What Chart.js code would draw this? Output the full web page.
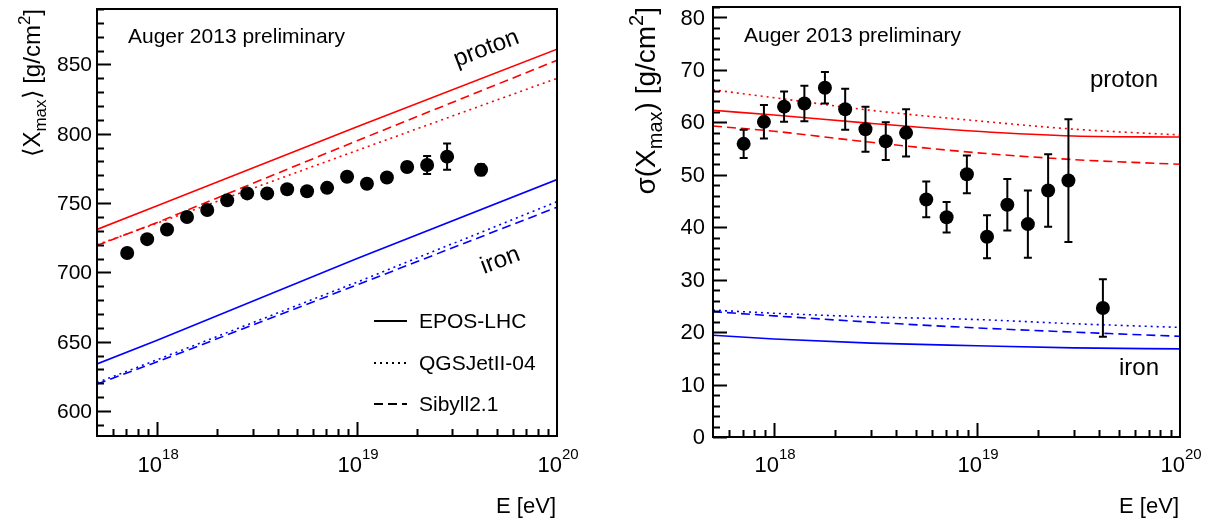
<!DOCTYPE html>
<html>
<head>
<meta charset="utf-8">
<script src="https://cdn.jsdelivr.net/npm/chart.js@4.4.1/dist/chart.umd.min.js"></script>
<style>
  html, body { margin: 0; padding: 0; background: #fff; }
  #wrap { position: relative; width: 1207px; height: 518px; overflow: hidden; background: #fff; }
  canvas { position: absolute; top: 0; }
  #c1 { left: 0; }
  #c2 { left: 600px; }
</style>
</head>
<body>
<div id="wrap">
  <canvas id="c1" width="600" height="518"></canvas>
  <canvas id="c2" width="607" height="518"></canvas>
</div>
<script>
// energy bins in eV (same for both panels)
const energies = [7.08e17, 8.91e17, 1.12e18, 1.41e18, 1.78e18, 2.24e18, 2.82e18, 3.55e18, 4.47e18,
                  5.62e18, 7.08e18, 8.91e18, 1.12e19, 1.41e19, 1.78e19, 2.24e19, 2.82e19, 4.17e19];

// left panel: <Xmax> [g/cm2]
const meanXmax    = [714, 724, 731, 740, 745, 752, 757, 757, 760, 758.5, 761, 769, 764, 768.5, 776, 777.5, 783.5, 774];
const meanXmaxErr = [2, 2, 2, 2, 2, 2, 2, 2, 2, 2, 2.5, 2.5, 3, 3, 3.5, 6.5, 9.5, 4];

// right panel: sigma(Xmax) [g/cm2]
const sigmaXmax    = [55.9, 60.1, 63.0, 63.6, 66.6, 62.5, 58.7, 56.4, 58.0, 45.3, 41.9, 50.1, 38.2, 44.3, 40.6, 47.0, 48.9, 24.6];
const sigmaXmaxErr = [2.7, 3.2, 2.9, 3.4, 3.0, 3.9, 4.3, 3.6, 4.5, 3.4, 2.9, 3.6, 4.1, 4.9, 6.4, 6.9, 11.7, 5.5];

// model predictions, left panel
const modelE1 = [5e17, 1e18, 1e19, 1e20];
const eposP   = [731, 748, 805, 861];
const qgsP    = [720, 735.5, 788, 840];
const sibP    = [719.5, 736, 795, 853];
const eposFe  = [634, 651, 710, 767];
const qgsFe   = [620.5, 637, 693, 751];
const sibFe   = [619.5, 635.5, 691, 747];

// model predictions, right panel
const modelE2   = [5e17, 1e18, 3e18, 1e19, 3e19, 1e20];
const eposPsig  = [62.3, 61.4, 59.8, 58.3, 57.4, 57.2];
const qgsPsig   = [66.2, 64.7, 62.3, 60.3, 58.7, 57.6];
const sibPsig   = [59.3, 58.3, 56.2, 54.2, 52.9, 52.0];
const eposFeSig = [19.4, 18.7, 17.9, 17.4, 17.0, 16.8];
const qgsFeSig  = [24.2, 23.6, 22.9, 22.4, 21.6, 20.9];
const sibFeSig  = [23.9, 23.1, 21.9, 20.8, 20.0, 19.2];

// axes
const xDecades   = [1e18, 1e19, 1e20];
const xExponents = ['18', '19', '20'];
const leftYTicks  = [600, 650, 700, 750, 800, 850];
const rightYTicks = [0, 10, 20, 30, 40, 50, 60, 70, 80];
const legendLabels = ['EPOS-LHC', 'QGSJetII-04', 'Sibyll2.1'];

const FONT = '"Liberation Sans", Arial, Helvetica, sans-serif';
const RED = 'rgb(255,0,0)';
const BLUE = 'rgb(0,0,255)';
const DASH = [9, 5];
const DOT = [2, 4];

function rich(ctx, parts, x, y, align) {
  const ws = parts.map(p => { ctx.font = p.s + 'px ' + FONT; return ctx.measureText(p.t).width; });
  const w = ws.reduce((s, v) => s + v, 0);
  let cx = align === 'right' ? x - w : align === 'center' ? x - w / 2 : x;
  ctx.textAlign = 'left';
  ctx.textBaseline = 'alphabetic';
  parts.forEach((p, i) => {
    ctx.font = p.s + 'px ' + FONT;
    ctx.fillText(p.t, cx, y + (p.dy || 0));
    cx += ws[i];
  });
}

function pts(xs, ys) { return xs.map((x, i) => ({ x: x, y: ys[i] })); }

function curve(xs, ys, color, dash, smooth) {
  return {
    data: pts(xs, ys), showLine: true, pointRadius: 0, borderColor: color,
    borderWidth: 1.6, borderDash: dash, fill: false,
    cubicInterpolationMode: smooth ? 'monotone' : 'default'
  };
}

// per-panel drawing settings, kept out of chart options
const panelCfg = {
  c1: {
    values: meanXmax, errors: meanXmaxErr,
    yTicks: leftYTicks, yMinor: 10, yFont: 21, yPad: 5,
    yTitleX: 40,
    yTitle: [{ t: '\u27E8X', s: 24 }, { t: 'max', s: 17, dy: 6 }, { t: '\u27E9 [g/cm', s: 24 }, { t: '2', s: 17, dy: -10 }, { t: ']', s: 24 }],
    auger: [128, 43],
    extra(ctx) {
      ctx.save();
      ctx.font = '24px ' + FONT;
      ctx.textAlign = 'left';
      ctx.textBaseline = 'alphabetic';
      ctx.translate(457, 67); ctx.rotate(-21 * Math.PI / 180);
      ctx.fillText('proton', 0, 0);
      ctx.restore();
      ctx.save();
      ctx.font = '24px ' + FONT;
      ctx.textAlign = 'left';
      ctx.textBaseline = 'alphabetic';
      ctx.translate(484, 274); ctx.rotate(-21 * Math.PI / 180);
      ctx.fillText('iron', 0, 0);
      ctx.restore();
      // legend
      const dashes = [[], DOT, DASH];
      const ry = [321, 363, 404];
      legendLabels.forEach((lab, i) => {
        ctx.save();
        ctx.lineWidth = 1.8;
        ctx.setLineDash(dashes[i]);
        ctx.beginPath();
        ctx.moveTo(374, ry[i]); ctx.lineTo(407, ry[i]);
        ctx.stroke();
        ctx.restore();
        ctx.font = '21px ' + FONT;
        ctx.textAlign = 'left';
        ctx.textBaseline = 'middle';
        ctx.fillText(lab, 419, ry[i] + 1);
      });
    }
  },
  c2: {
    values: sigmaXmax, errors: sigmaXmaxErr,
    yTicks: rightYTicks, yMinor: 2, yFont: 22, yPad: 8,
    yTitleX: 55,
    yTitle: [{ t: '\u03C3(X', s: 28 }, { t: 'max', s: 20, dy: 7 }, { t: ') [g/cm', s: 28 }, { t: '2', s: 20, dy: -12 }, { t: ']', s: 28 }],
    auger: [144, 42],
    extra(ctx) {
      ctx.font = '24px ' + FONT;
      ctx.textAlign = 'left';
      ctx.textBaseline = 'alphabetic';
      ctx.fillText('proton', 490, 87);
      ctx.fillText('iron', 519, 375);
    }
  }
};

// frame, inward ticks, labels, titles, error bars
const axesPlugin = {
  id: 'rootAxes',
  afterDatasetsDraw(chart) {
    const o = panelCfg[chart.canvas.id];
    const ctx = chart.ctx, ys = chart.scales.y;
    const meta = chart.getDatasetMeta(0);
    ctx.save();
    ctx.strokeStyle = '#000';
    ctx.lineWidth = 2;
    meta.data.forEach((el, i) => {
      const v = o.values[i], e = o.errors[i];
      const yt = ys.getPixelForValue(v + e), yb = ys.getPixelForValue(v - e);
      ctx.beginPath();
      ctx.moveTo(el.x, yt); ctx.lineTo(el.x, yb);
      ctx.moveTo(el.x - 4, yt); ctx.lineTo(el.x + 4, yt);
      ctx.moveTo(el.x - 4, yb); ctx.lineTo(el.x + 4, yb);
      ctx.stroke();
    });
    ctx.restore();
  },
  afterDraw(chart) {
    const o = panelCfg[chart.canvas.id];
    const ctx = chart.ctx, a = chart.chartArea;
    const xs = chart.scales.x, ys = chart.scales.y;
    ctx.save();
    ctx.fillStyle = '#000';
    ctx.strokeStyle = '#000';
    ctx.lineWidth = 2;
    ctx.strokeRect(a.left, a.top, a.right - a.left, a.bottom - a.top);

    // y ticks
    ctx.beginPath();
    for (let v = Math.ceil(ys.min / o.yMinor) * o.yMinor; v <= ys.max + 1e-9; v += o.yMinor) {
      const y = Math.round(ys.getPixelForValue(v)) + 0.5;
      const major = o.yTicks.indexOf(Math.round(v)) >= 0;
      ctx.moveTo(a.left, y); ctx.lineTo(a.left + (major ? 14 : 7), y);
    }
    // x ticks (log)
    for (let d = 17; d <= 19; d++) {
      for (let k = 1; k <= 9; k++) {
        const v = k * Math.pow(10, d);
        if (v <= xs.min || v >= xs.max) continue;
        const x = Math.round(xs.getPixelForValue(v)) + 0.5;
        ctx.moveTo(x, a.bottom); ctx.lineTo(x, a.bottom - (k === 1 ? 14 : 7));
      }
    }
    ctx.stroke();

    // y labels
    ctx.font = o.yFont + 'px ' + FONT;
    ctx.textAlign = 'right';
    ctx.textBaseline = 'middle';
    o.yTicks.forEach(v => ctx.fillText(String(v), a.left - o.yPad, ys.getPixelForValue(v) + 1));

    // x labels 10^n
    xDecades.forEach((v, i) => {
      rich(ctx, [{ t: '10', s: 22 }, { t: xExponents[i], s: 15, dy: -13 }],
           xs.getPixelForValue(v) + 1, 472, 'center');
    });

    // axis titles
    rich(ctx, [{ t: 'E [eV]', s: 22 }], a.right - 1, 513, 'right');
    ctx.save();
    ctx.translate(o.yTitleX, a.top);
    ctx.rotate(-Math.PI / 2);
    rich(ctx, o.yTitle, 0, 0, 'right');
    ctx.restore();

    rich(ctx, [{ t: 'Auger 2013 preliminary', s: 21 }], o.auger[0], o.auger[1], 'left');
    o.extra(ctx);
    ctx.restore();
  }
};

function panel(id, opts) {
  return new Chart(document.getElementById(id), {
    type: 'scatter',
    data: { datasets: opts.datasets },
    options: {
      responsive: false,
      animation: false,
      devicePixelRatio: 1,
      layout: { padding: opts.padding },
      plugins: {
        legend: { display: false },
        tooltip: { enabled: false }
      },
      scales: {
        x: { type: 'logarithmic', min: 5e17, max: 1e20, display: false },
        y: { type: 'linear', min: opts.yMin, max: opts.yMax, display: false }
      }
    },
    plugins: [axesPlugin]
  });
}

const dataStyle = { showLine: false, pointRadius: 7, pointBackgroundColor: '#000', pointBorderColor: '#000', pointBorderWidth: 0 };

panel('c1', {
  padding: { left: 97, right: 43, top: 9, bottom: 82 },
  yMin: 582, yMax: 890,
  datasets: [
    Object.assign({ data: pts(energies, meanXmax) }, dataStyle),
    curve(modelE1, eposP, RED, []),
    curve(modelE1, qgsP, RED, DOT),
    curve(modelE1, sibP, RED, DASH),
    curve(modelE1, eposFe, BLUE, []),
    curve(modelE1, qgsFe, BLUE, DOT),
    curve(modelE1, sibFe, BLUE, DASH)
  ]
});

panel('c2', {
  padding: { left: 113, right: 27, top: 7, bottom: 81 },
  yMin: 0, yMax: 82,
  datasets: [
    Object.assign({ data: pts(energies, sigmaXmax) }, dataStyle),
    curve(modelE2, eposPsig, RED, [], true),
    curve(modelE2, qgsPsig, RED, DOT, true),
    curve(modelE2, sibPsig, RED, DASH, true),
    curve(modelE2, eposFeSig, BLUE, [], true),
    curve(modelE2, qgsFeSig, BLUE, DOT, true),
    curve(modelE2, sibFeSig, BLUE, DASH, true)
  ]
});
</script>
</body>
</html>
